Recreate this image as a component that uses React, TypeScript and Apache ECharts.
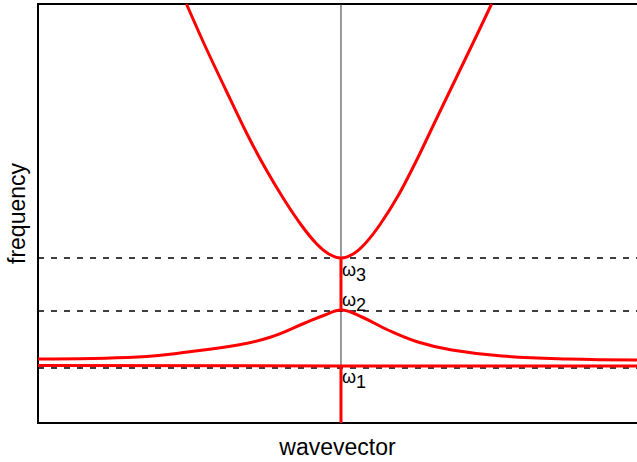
import React, { useEffect, useRef } from "react";
import * as echarts from "echarts";

// upper branch (wavevector, frequency)
const upperBranch: [number, number][] = [
  [-0.51, 4.19], [-0.45, 3.78], [-0.38, 3.33], [-0.31, 2.89], [-0.25, 2.55], [-0.19, 2.245],
  [-0.13, 1.975], [-0.08, 1.79], [-0.04, 1.69], [0, 1.65],
  [0.04, 1.69], [0.08, 1.795], [0.13, 1.99], [0.19, 2.28], [0.25, 2.63], [0.31, 3.01],
  [0.38, 3.45], [0.45, 3.89], [0.497, 4.19],
];
// middle branch
const middleBranch: [number, number][] = [
  [-1, 0.64], [-0.67, 0.66], [-0.505, 0.71], [-0.34, 0.78], [-0.231, 0.86], [-0.119, 1.0],
  [-0.053, 1.08], [0, 1.13], [0.069, 1.06], [0.155, 0.93], [0.254, 0.81], [0.366, 0.73],
  [0.531, 0.67], [0.749, 0.64], [0.977, 0.63],
];
// lower flat branch
const lowerBranch: [number, number][] = [[-1, 0.575], [0, 0.57], [0.977, 0.57]];
// vertical gap segments at k = 0
const gapUpper: [number, number][] = [[0, 1.65], [0, 1.13]];
const gapLower: [number, number][] = [[0, 0.57], [0, 0]];
// reference frequencies
const omegaLevels = [0.55, 1.12, 1.65];
const omegaNames = ["1", "2", "3"];
const omegaLabelY = [0.46, 1.23, 1.53];

const X_MIN = -1;
const X_MAX = 0.977;
const Y_MAX = 4.19;

export default function App() {
  const ref = useRef<HTMLDivElement>(null);
  useEffect(() => {
    if (!ref.current) return;
    const chart = echarts.init(ref.current, undefined, { renderer: "svg" });
    const red = { color: "#ff0000", width: 3 };
    const redLine = (data: [number, number][], smooth: boolean | number) => ({
      type: "line",
      data,
      smooth,
      showSymbol: false,
      symbol: "none",
      lineStyle: red,
      z: 5,
    });
    chart.setOption({
      animation: false,
      backgroundColor: "#ffffff",
      textStyle: { fontFamily: "Liberation Sans" },
      grid: { left: 38, right: 0, top: 4, bottom: 39, outerBoundsMode: "none", containLabel: false },
      xAxis: [
        {
          type: "value",
          min: X_MIN,
          max: X_MAX,
          name: "wavevector",
          nameLocation: "middle",
          nameGap: 12,
          nameTextStyle: { fontSize: 23, color: "#000", fontFamily: "Liberation Sans", verticalAlign: "top" },
          axisLine: { show: true, onZero: false, lineStyle: { color: "#000", width: 2 } },
          axisTick: { show: false },
          axisLabel: { show: false },
          splitLine: { show: false },
        },
        {
          type: "value",
          position: "top",
          min: X_MIN,
          max: X_MAX,
          axisLine: { show: true, onZero: false, lineStyle: { color: "#000", width: 2 } },
          axisTick: { show: false },
          axisLabel: { show: false },
          splitLine: { show: false },
        },
      ],
      yAxis: {
        type: "value",
        min: 0,
        max: Y_MAX,
        name: "frequency",
        nameLocation: "middle",
        nameGap: 10,
        nameTextStyle: { fontSize: 23, color: "#000", fontFamily: "Liberation Sans" },
        axisLine: { show: true, onZero: false, lineStyle: { color: "#000", width: 2 } },
        axisTick: { show: false },
        axisLabel: { show: false },
        splitLine: { show: false },
      },
      series: [
        {
          type: "line",
          data: [[0, 0], [0, Y_MAX]],
          showSymbol: false,
          symbol: "none",
          lineStyle: { color: "#333", width: 1 },
          z: 1,
        },
        ...omegaLevels.map((v) => ({
          type: "line",
          data: [[X_MIN, v], [X_MAX, v]],
          showSymbol: false,
          symbol: "none",
          lineStyle: { color: "#000", width: 1.3, type: [6, 7] },
          z: 2,
        })),
        redLine(upperBranch, 0.3),
        redLine(middleBranch, 0.4),
        redLine(lowerBranch, false),
        redLine(gapUpper, false),
        redLine(gapLower, false),
      ],
    });
    const elements: any[] = [];
    omegaLabelY.forEach((y, i) => {
      const [px, py] = chart.convertToPixel({ gridIndex: 0 }, [0, y]) as number[];
      elements.push({
        type: "text",
        x: px + 1,
        y: py,
        z: 100,
        style: { text: "ω", fontSize: 18, fill: "#000", fontFamily: "Liberation Sans", verticalAlign: "middle" },
      });
      elements.push({
        type: "text",
        x: px + 15,
        y: py + 5,
        z: 100,
        style: { text: omegaNames[i], fontSize: 18, fill: "#000", fontFamily: "Liberation Sans", verticalAlign: "middle" },
      });
    });
    chart.setOption({ graphic: elements });
    return () => chart.dispose();
  }, []);
  return (
    <div
      ref={ref}
      style={{ position: "fixed", left: 0, top: 0, width: 637, height: 462 }}
    />
  );
}
